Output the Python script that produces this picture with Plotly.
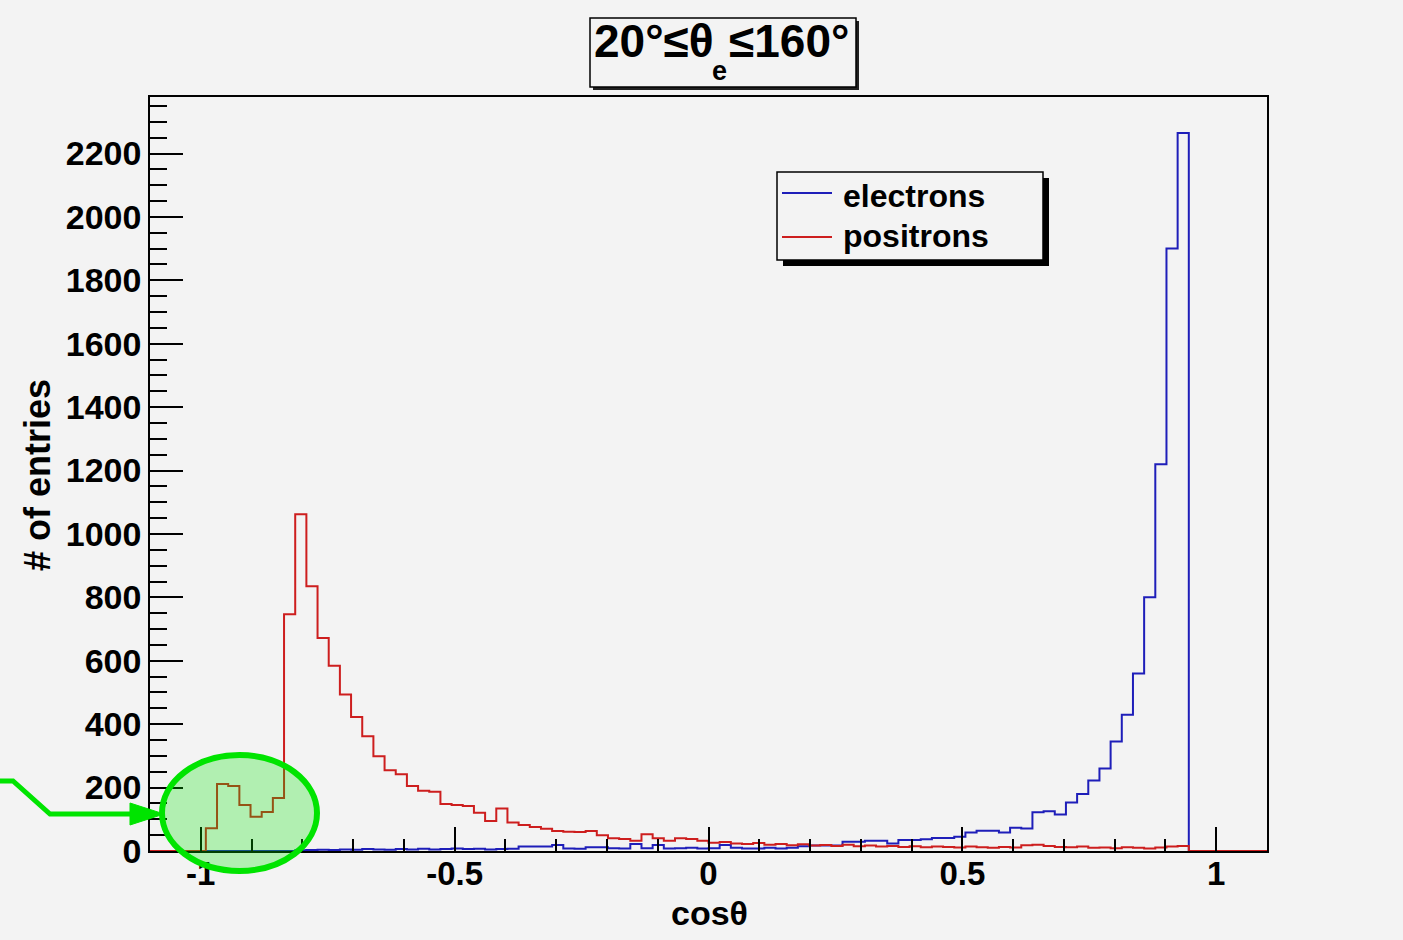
import plotly.graph_objects as go

# cos(theta) histograms: 100 equal bins on [-1.1, 1.1]
n_bins = 100
x_lo, x_hi = -1.1, 1.1

electrons = [
    0, 0, 0, 0, 0, 0, 0, 0, 0, 0, 0, 0, 0,
    2, 3, 4, 3, 5, 4, 6, 5, 4, 6, 5, 7, 5, 6, 8, 6, 7, 5, 6, 7,
    14, 14, 14, 19, 8, 7, 12, 12, 9, 8, 22, 9, 19, 8, 9, 10, 8,
    9, 19, 10, 8, 8, 10, 8, 10, 15, 17, 17, 17, 29, 29, 32, 32, 24,
    35, 35, 37, 41, 41, 45, 58, 64, 64, 58, 73, 71, 122, 125, 115,
    153, 180, 222, 260, 345, 430, 560, 800, 1220, 1900, 2265,
    0, 0, 0, 0, 0, 0, 0,
]

positrons = [
    0, 0, 0, 0, 0,
    72, 211, 205, 145, 108, 123, 167, 747, 1062, 835, 672, 584, 494,
    423, 362, 299, 255, 242, 205, 190, 187, 148, 145, 142, 121, 95,
    134, 90, 82, 76, 70, 63, 61, 60, 63, 50, 40, 38, 32, 53, 40, 32,
    40, 38, 32,
    26, 28, 24, 22, 25, 20, 22, 18, 21, 17, 19, 16, 20, 15, 17, 14,
    16, 13, 15, 12, 14, 13, 11, 14, 12, 10, 13, 11, 18, 20, 16, 13,
    12, 14, 10, 11, 9, 12, 10, 8, 11, 14, 16,
    0, 0, 0, 0, 0, 0, 0,
]

series_names = ["electrons", "positrons"]
series_colors = ["rgb(30,30,185)", "rgb(205,30,30)"]

x_tickvals = [-1, -0.5, 0, 0.5, 1]
x_ticktext = ["-1", "-0.5", "0", "0.5", "1"]
y_tickvals = [0, 200, 400, 600, 800, 1000, 1200, 1400, 1600, 1800, 2000, 2200]
y_ticktext = [str(v) for v in y_tickvals]

bg = "#f3f3f3"
font_family = "Liberation Sans, Arial, sans-serif"

bin_w = (x_hi - x_lo) / n_bins
edges = [x_lo + i * bin_w for i in range(n_bins + 1)]
y_max = 1.05 * max(max(electrons), max(positrons))

# frame geometry in pixels (used for decorations placed in paper coordinates)
W, H = 1403, 940
L, R, T, B = 150, 1267, 97, 851


def fx(px):
    return (px - L) / (R - L)


def fy(py):
    return (B - py) / (B - T)


fig = go.Figure()
for name, counts, color in zip(series_names, [electrons, positrons], series_colors):
    fig.add_trace(go.Scatter(
        x=edges,
        y=counts + [counts[-1]],
        mode="lines",
        line=dict(shape="hv", color=color, width=2),
        name=name,
        showlegend=False,
    ))

fig.update_layout(
    width=W, height=H,
    margin=dict(l=L, r=W - R, t=T, b=H - B, pad=0),
    paper_bgcolor=bg, plot_bgcolor=bg,
    font=dict(family=font_family, color="black"),
    showlegend=False,
)

fig.update_xaxes(
    range=[x_lo, x_hi],
    tickmode="array", tickvals=x_tickvals, ticktext=x_ticktext,
    ticks="inside", ticklen=24, tickwidth=1.5, tickcolor="black",
    ticklabelstandoff=-7,
    minor=dict(tickmode="array",
               tickvals=[round(-1.1 + 0.1 * k, 2) for k in range(23)],
               ticks="inside", ticklen=12, tickwidth=1.5, tickcolor="black"),
    tickfont=dict(size=33, weight="bold", family=font_family),
    showline=True, mirror=True, linecolor="black", linewidth=1.5,
    showgrid=False, zeroline=False,
)
fig.update_yaxes(
    range=[0, y_max],
    tickmode="array", tickvals=y_tickvals, ticktext=y_ticktext,
    ticks="inside", ticklen=33, tickwidth=1.5, tickcolor="black",
    minor=dict(tickmode="array",
               tickvals=[50 * k for k in range(48)],
               ticks="inside", ticklen=17, tickwidth=1.5, tickcolor="black"),
    tickfont=dict(size=34, weight="bold", family=font_family),
    showline=True, mirror=True, linecolor="black", linewidth=1.5,
    showgrid=False, zeroline=False,
)

shapes = []
annotations = []

# title box with drop shadow
shapes.append(dict(type="rect", xref="paper", yref="paper",
                   x0=fx(593), x1=fx(859), y0=fy(90), y1=fy(21),
                   fillcolor="#202020", line=dict(width=0), layer="above"))
shapes.append(dict(type="rect", xref="paper", yref="paper",
                   x0=fx(590), x1=fx(856), y0=fy(87), y1=fy(18),
                   fillcolor=bg, line=dict(color="black", width=1.5), layer="above"))
annotations.append(dict(xref="paper", yref="paper", x=fx(716), y=fy(41),
                        xanchor="right", yanchor="middle", showarrow=False,
                        text="20°≤θ", font=dict(size=46, weight="bold", family=font_family)))
annotations.append(dict(xref="paper", yref="paper", x=fx(727), y=fy(41),
                        xanchor="left", yanchor="middle", showarrow=False,
                        text="≤160°", font=dict(size=46, weight="bold", family=font_family)))
annotations.append(dict(xref="paper", yref="paper", x=fx(719), y=fy(71),
                        xanchor="center", yanchor="middle", showarrow=False,
                        text="e", font=dict(size=27, weight="bold", family=font_family)))

# legend box with drop shadow
shapes.append(dict(type="rect", xref="paper", yref="paper",
                   x0=fx(783), x1=fx(1049), y0=fy(266), y1=fy(178),
                   fillcolor="black", line=dict(width=0), layer="above"))
shapes.append(dict(type="rect", xref="paper", yref="paper",
                   x0=fx(777), x1=fx(1043), y0=fy(260), y1=fy(172),
                   fillcolor=bg, line=dict(color="black", width=1.5), layer="above"))
legend_lines = [193, 237]
legend_text_y = [196, 236]
for name, color, row, ty in zip(series_names, series_colors, legend_lines, legend_text_y):
    shapes.append(dict(type="line", xref="paper", yref="paper",
                       x0=fx(782), x1=fx(832), y0=fy(row), y1=fy(row),
                       line=dict(color=color, width=2), layer="above"))
    annotations.append(dict(xref="paper", yref="paper", x=fx(841), y=fy(ty),
                            xanchor="left", yanchor="middle", showarrow=False,
                            text=name, font=dict(size=32, weight="bold", family=font_family)))

# axis titles
annotations.append(dict(xref="paper", yref="paper", x=fx(709), y=fy(913),
                        xanchor="center", yanchor="middle", showarrow=False,
                        text="cosθ", font=dict(size=34, weight="bold", family=font_family)))
annotations.append(dict(xref="paper", yref="paper", x=fx(37), y=fy(475),
                        xanchor="center", yanchor="middle", showarrow=False, textangle=-90,
                        text="# of entries", font=dict(size=36, weight="bold", family=font_family)))

# highlighted region near cos(theta) = -1 with pointing arrow
green = "rgb(0,228,0)"
shapes.append(dict(type="circle", xref="paper", yref="paper",
                   x0=fx(162), x1=fx(317), y0=fy(871), y1=fy(755),
                   fillcolor="rgba(0,228,0,0.27)", line=dict(color=green, width=6),
                   layer="above"))
arrow_path = "M {:.5f},{:.5f} L {:.5f},{:.5f} L {:.5f},{:.5f} L {:.5f},{:.5f}".format(
    fx(-2), fy(781), fx(13), fy(781), fx(50), fy(814), fx(134), fy(814))
shapes.append(dict(type="path", xref="paper", yref="paper", path=arrow_path,
                   line=dict(color=green, width=5), layer="above"))
head_path = "M {:.5f},{:.5f} L {:.5f},{:.5f} L {:.5f},{:.5f} Z".format(
    fx(130), fy(803), fx(164), fy(814), fx(130), fy(825))
shapes.append(dict(type="path", xref="paper", yref="paper", path=head_path,
                   fillcolor=green, line=dict(color=green, width=1), layer="above"))

fig.update_layout(shapes=shapes, annotations=annotations)

fig.write_html("out.html")
